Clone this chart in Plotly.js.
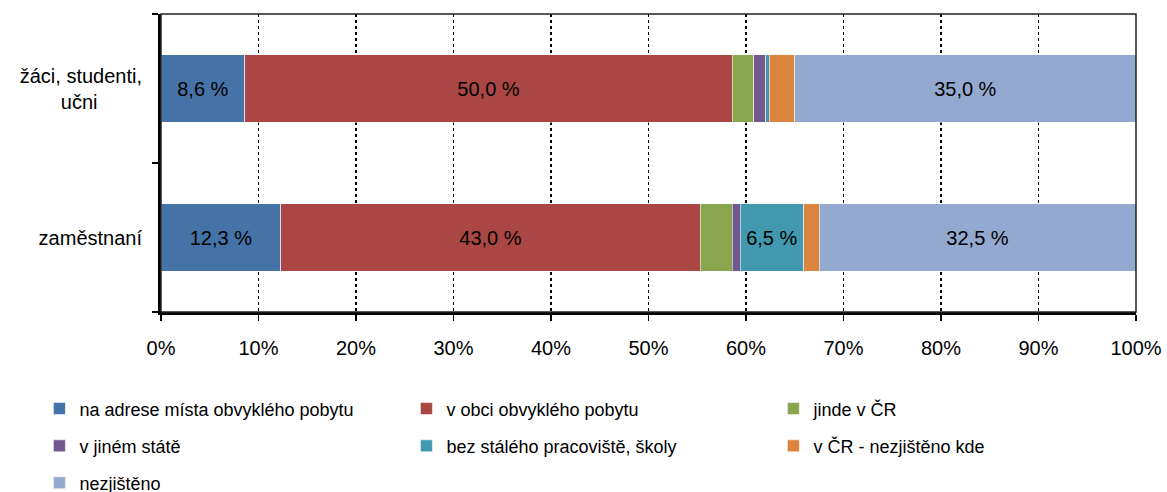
<!DOCTYPE html>
<html>
<head>
<meta charset="utf-8">
<script src="https://cdn.plot.ly/plotly-3.0.1.min.js"></script>
<style>html,body{margin:0;padding:0;background:#fff;}#chart{width:1167px;height:492px;}</style>
</head>
<body>
<div id="chart"></div>
<script>
// Categories (bottom to top as drawn by Plotly)
const categories = ['zaměstnaní', 'žáci, studenti, učni'];
const categoryLabels = ['zaměstnaní', 'žáci, studenti,<br>učni\u00a0\u00a0\u00a0\u00a0\u00a0\u00a0\u00a0\u00a0'];

const seriesNames = [
  'na adrese místa obvyklého pobytu',
  'v obci obvyklého pobytu',
  'jinde v ČR',
  'v jiném státě',
  'bez stálého pracoviště, školy',
  'v ČR - nezjištěno kde',
  'nezjištěno'
];

// values per series: [zaměstnaní, žáci/studenti/učni]
const naAdrese      = [12.3, 8.6];
const vObci         = [43.0, 50.0];
const jindeVCR      = [3.3, 2.2];
const vJinemState   = [0.8, 1.2];
const bezStaleho    = [6.5, 0.4];
const vCRNezjisteno = [1.6, 2.6];
const nezjisteno    = [32.5, 35.0];

const seriesValues = [naAdrese, vObci, jindeVCR, vJinemState, bezStaleho, vCRNezjisteno, nezjisteno];
const colors = ['#4572A7', '#AA4643', '#89A54E', '#71588F', '#4198AF', '#DB843D', '#93A9CF'];
const legendIds = ['legend', 'legend', 'legend', 'legend2', 'legend2', 'legend2', 'legend3'];

function fmt(v) { return v >= 5 ? v.toFixed(1).replace('.', ',') + ' %' : ''; }

const traces = seriesNames.map((name, i) => ({
  type: 'bar',
  orientation: 'h',
  name: name,
  y: categories,
  x: seriesValues[i],
  text: seriesValues[i].map(fmt),
  textposition: 'inside',
  insidetextanchor: 'middle',
  textangle: 0,
  textfont: {family: 'Liberation Sans, Arial, sans-serif', size: 20, color: '#000'},
  constraintext: 'none',
  marker: {color: colors[i], line: {color: 'rgba(255,255,255,0.55)', width: 1}},
  legend: legendIds[i],
  hoverinfo: 'skip'
}));

const legendFont = {family: 'Liberation Sans, Arial, sans-serif', size: 18, color: '#000'};
function legendCfg(y) {
  return {
    orientation: 'h', x: -0.1247, xanchor: 'left', y: y, yanchor: 'middle',
    font: legendFont, entrywidth: 322, entrywidthmode: 'pixels',
    traceorder: 'normal', bgcolor: 'rgba(0,0,0,0)', borderwidth: 0
  };
}

const layout = {
  width: 1167, height: 492,
  margin: {l: 161, r: 31, t: 14, b: 180, autoexpand: false},
  paper_bgcolor: '#fff', plot_bgcolor: '#fff',
  barmode: 'stack',
  bargap: 0.544,
  font: {family: 'Liberation Sans, Arial, sans-serif', size: 20, color: '#000'},
  showlegend: true,
  legend: legendCfg(-0.325),
  legend2: legendCfg(-0.450),
  legend3: legendCfg(-0.574),
  xaxis: {
    range: [0, 100], dtick: 10, tick0: 0, ticksuffix: '%',
    showgrid: true, gridcolor: '#000', gridwidth: 1.5, griddash: 'dot',
    zeroline: false,
    showline: true, linecolor: '#000', linewidth: 3,
    ticks: 'outside', ticklen: 6, tickwidth: 1.5, tickcolor: '#000',
    ticklabelstandoff: 10,
    tickfont: {size: 20, color: '#000'},
    automargin: false,
    fixedrange: true
  },
  yaxis: {
    type: 'category',
    categoryorder: 'array', categoryarray: categories,
    tickvals: categories, ticktext: categoryLabels,
    showgrid: false, zeroline: false,
    showline: true, linecolor: '#000', linewidth: 3,
    ticks: 'outside', tickson: 'boundaries', ticklen: 6, tickwidth: 2, tickcolor: '#000',
    ticklabelstandoff: 12,
    tickfont: {size: 20, color: '#000'},
    automargin: false,
    fixedrange: true
  },
  shapes: [{
    type: 'rect', xref: 'paper', yref: 'paper', x0: 0, x1: 1, y0: 0, y1: 1,
    line: {color: '#222', width: 1.5}, fillcolor: 'rgba(0,0,0,0)', layer: 'above'
  }]
};

Plotly.newPlot('chart', traces, layout, {displayModeBar: false, staticPlot: true});
</script>
</body>
</html>
